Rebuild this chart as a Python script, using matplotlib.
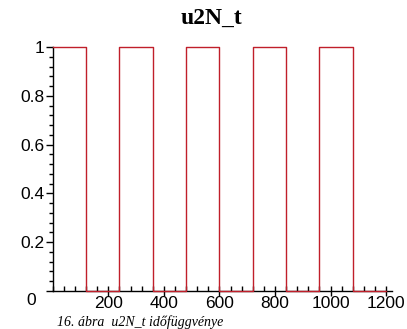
import matplotlib
matplotlib.use("Agg")
import matplotlib.pyplot as plt
from matplotlib.ticker import MultipleLocator
from matplotlib.transforms import ScaledTranslation

# pulse edges (t) and levels of u2N_t
t_edges = [0, 120, 120, 240, 240, 360, 360, 480, 480, 600, 600, 720, 720, 840, 840, 960, 960, 1080, 1080, 1200]
u_levels = [1, 1, 0, 0, 1, 1, 0, 0, 1, 1, 0, 0, 1, 1, 0, 0, 1, 1, 0, 0]
x_ticks = [200, 400, 600, 800, 1000, 1200]
y_ticks = [0, 0.2, 0.4, 0.6, 0.8, 1]
y_labels = ["0", "0.2", "0.4", "0.6", "0.8", "1"]

plt.rcParams['font.family'] = ['Liberation Sans', 'DejaVu Sans']

fig = plt.figure(figsize=(4.07, 3.29), dpi=100)
ax = fig.add_axes([0.1295, 0.1155, 0.833, 0.7416])

ax.plot(t_edges, u_levels, color="#c01f2a", lw=1.0, clip_on=False, zorder=3)

ax.set_xlim(0, 1220)
ax.set_ylim(0, 1)
for s in ["top", "right"]:
	ax.spines[s].set_visible(False)
for s in ["left", "bottom"]:
	ax.spines[s].set_linewidth(1.0)

ax.set_xticks(x_ticks)
ax.set_yticks(y_ticks)
ax.set_yticklabels(y_labels)
ax.xaxis.set_minor_locator(MultipleLocator(40))
ax.yaxis.set_minor_locator(MultipleLocator(0.04))
ax.tick_params(axis="x", which="major", direction="inout", length=7, width=1, labelsize=12.5, pad=0)
ax.tick_params(axis="x", which="minor", direction="in", length=3.5, width=1)
ax.tick_params(axis="y", which="major", direction="out", length=5, width=1, labelsize=12.5, pad=1)
ax.tick_params(axis="y", which="minor", direction="out", length=3, width=1)

# the "0" label sits lower-left in the original
lab0 = ax.get_yticklabels()[0]
lab0.set_transform(lab0.get_transform() + ScaledTranslation(-6/72, -6/72, fig.dpi_scale_trans))

fig.text(0.52, 0.945, "u2N_t", ha="center", va="center", fontsize=17, fontweight="bold", family="Liberation Serif")
fig.text(0.14, 0.0, "16. ábra  u2N_t időfüggvénye", ha="left", va="bottom",
	fontsize=10, style="italic", family="Liberation Serif")

fig.savefig("out.png", dpi=100)
